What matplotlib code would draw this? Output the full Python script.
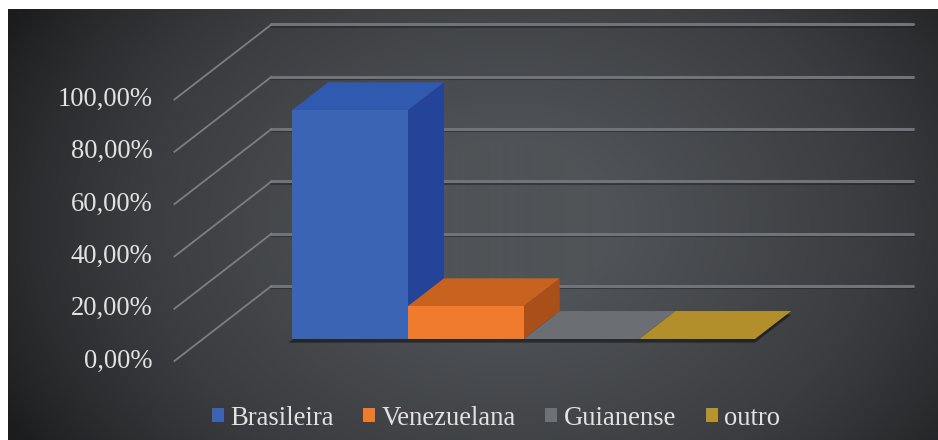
import numpy as np
import matplotlib
matplotlib.use('Agg')
import matplotlib.pyplot as plt
from matplotlib.patches import Polygon, Patch
from matplotlib.colors import LinearSegmentedColormap

categories = ['Brasileira', 'Venezuelana', 'Guianense', 'outro']
values = [87.5, 12.5, 0.0, 0.0]
ticks = [0, 20, 40, 60, 80, 100]
tick_labels = ['%.2f%%' % t for t in ticks]
tick_labels = [s.replace('.', ',') for s in tick_labels]

# face colours per series: front, top, side
front_cols = ['#3c64b5', '#f07b2c', '#6e7175', '#b8942e']
top_cols = ['#3059b0', '#c9621f', '#6b6e72', '#b38f2c']
side_cols = ['#24449a', '#a9501a', '#55585c', '#8a6e22']

txt_col = '#e2e2e2'
plt.rcParams['font.family'] = ['Liberation Serif', 'DejaVu Serif']
plt.rcParams['font.size'] = 19.2

fig = plt.figure(figsize=(9.38, 4.4), dpi=100)
fig.patch.set_facecolor('white')

# dark panel with radial gradient
bg = fig.add_axes([8 / 938, 0, 930 / 938, 431 / 440])
yy, xx = np.mgrid[0:431, 0:930]
r = np.sqrt(((xx - 500) / 560.0) ** 2 + ((yy - 215) / 420.0) ** 2)
shade = np.clip(1 - r, 0, 1) ** 0.8
cmap = LinearSegmentedColormap.from_list('panel', ['#1c1d1f', '#3a3c3f', '#505357'])
bg.imshow(shade, cmap=cmap, aspect='auto', vmin=0, vmax=0.85,
          extent=[0, 930, 431, 0])
bg.axis('off')

ax = fig.add_axes([0, 0, 1, 1])
ax.set_xlim(-2.5227, 5.5810)
ax.set_ylim(-38.62, 129.64)
ax.axis('off')
ax.patch.set_alpha(0)

# oblique depth: full floor depth in (category, percent) units
dep_x, dep_y = 0.838, 28.68
d_front, d_back = -0.293, 0.707
d_bar = 0.373
wall_l, wall_r = -0.77, 4.77

def shift(x, y, d):
    return x + d * dep_x, y + d * dep_y

# back wall gridlines and side wall lines
for t, lab in zip(ticks, tick_labels):
    x0, y0 = shift(wall_l, t, d_back)
    x1, y1 = shift(wall_r, t, d_back)
    ax.plot([x0, x1], [y0 - 0.5, y1 - 0.5], color='#1e1f21', lw=2.2, alpha=0.5,
            solid_capstyle='round', zorder=1)
    ax.plot([x0, x1], [y0, y1], color='#707377', lw=2.2,
            solid_capstyle='round', zorder=2)
    xf, yf = shift(wall_l, t, d_front)
    ax.plot([xf, x0], [yf, y0], color='#7c7e82', lw=1.3, zorder=2)
    ax.annotate(lab, (xf, yf), xytext=(-22, 0), textcoords='offset pixels',
                ha='right', va='center', color=txt_col)

ddx, ddy = d_bar * dep_x, d_bar * dep_y

# soft shadow under the bars
n = len(values)
ax.add_patch(Polygon([(-0.03, -1.4), (n, -1.4), (n + ddx, ddy - 1.4),
                      (ddx - 0.03, ddy - 1.4)],
                     closed=True, fc='black', alpha=0.45, lw=0, zorder=3))

for i, v in enumerate(values):
    x0, x1 = i, i + 1
    if v > 0:
        ax.add_patch(Polygon([(x1, 0), (x1, v), (x1 + ddx, v + ddy), (x1 + ddx, ddy)],
                             closed=True, fc=side_cols[i], lw=0, zorder=4))
    ax.add_patch(Polygon([(x0, v), (x1, v), (x1 + ddx, v + ddy), (x0 + ddx, v + ddy)],
                         closed=True, fc=top_cols[i], lw=0, zorder=4))
    if v > 0:
        ax.bar(x0, v, width=1, align='edge', color=front_cols[i], lw=0, zorder=5)

handles = [Patch(fc=c, ec='none') for c in front_cols]
leg = fig.legend(handles, categories, loc='center', ncol=4, frameon=False,
                 bbox_to_anchor=(496 / 938, 1 - 418 / 440),
                 handlelength=0.45, handleheight=0.45, handletextpad=0.25,
                 columnspacing=1.1, labelcolor=txt_col)

fig.savefig('out.png', dpi=100, facecolor=fig.get_facecolor())
